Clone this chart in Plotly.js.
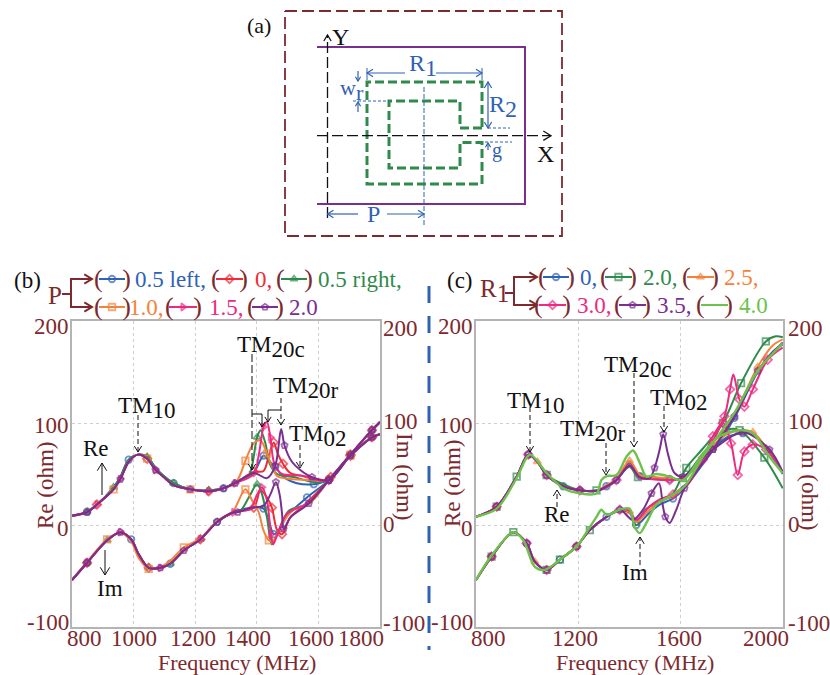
<!DOCTYPE html>
<html><head><meta charset="utf-8">
<script src="https://cdn.plot.ly/plotly-3.0.0.min.js"></script>
<style>html,body{margin:0;padding:0;background:#fff}#c{width:830px;height:675px}</style></head>
<body><div id="c"></div>
<script>
// ---------- palette ----------
const MAROON='#7c2a2e', BLUE='#2f62b4', RED='#ef2b36', GREEN='#2f8a4c', ORANGE='#f5823a', PINK='#ec2a80', PURPLE='#7a2e8f', LIME='#6cc24a', BLACK='#111';
const FONT='"Liberation Serif","Times New Roman",serif';

// ---------- panel (b): P sweep. [MHz, ohm] ----------
const bReLow=[[800,9],[849,12.5],[881,20],[935,35],[957,45],[984,62],[1014,69],[1044,65],[1071,54],[1098,47],[1130,39],[1184,35],[1244,33],[1292,36],[1330,41]];
const bReLowAlt=[[800,9],[849,13],[881,20],[935,37],[957,47],[984,64],[1014,69],[1044,67],[1071,56],[1098,48],[1130,41],[1184,35],[1244,34],[1292,36],[1330,42]];
const bImLow=[[800,-54],[849,-37],[914,-15],[957,-7],[992,-14],[1016,-28.5],[1049,-42],[1087,-42],[1119,-38],[1163,-25],[1217,-14],[1271,3],[1325,12.5]];
const bImLowAlt=[[800,-54],[849,-36],[914,-14],[957,-7.5],[992,-16],[1016,-32],[1049,-43],[1087,-41],[1119,-35],[1163,-22],[1217,-13],[1271,4],[1325,14]];
const bReTail=[[1704,68],[1774,86],[1800,89]];
const bImTail=[[1704,69],[1774,93],[1800,101]];

const bBlueRe=[[1390,52],[1422,68],[1439,63],[1460,57],[1487,47],[1530,41],[1585,40],[1634,45]];
const bBlueIm=[[1379,17],[1422,16],[1439,4],[1455,-9],[1471,-5.5],[1498,9],[1563,27],[1634,44]];
const bRedRe=[[1390,52],[1422,53],[1439,68],[1455,81],[1468,70],[1485,60],[1509,51],[1574,47],[1622,44],[1640,47]];
const bRedIm=[[1390,17],[1412,34],[1433,27],[1449,17],[1466,-5],[1482,-9],[1509,7.5],[1552,19],[1634,44]];
const bGreenRe=[[1347,44],[1374,48],[1401,86],[1412,93],[1428,80],[1442,60],[1466,50],[1520,47],[1585,42],[1634,44]];
const bGreenIm=[[1347,14],[1374,27],[1401,40],[1417,30],[1433,7.5],[1449,-19],[1466,-9],[1504,14],[1569,21],[1634,44]];
const bOrangeRe=[[1347,50],[1363,63],[1390,80],[1412,83],[1433,70],[1450,57],[1466,48],[1509,45],[1574,44],[1634,44]];
const bOrangeIm=[[1336,20.6],[1363,35],[1385,24],[1406,12.5],[1422,-5.5],[1439,-15],[1455,-15],[1477,-2],[1514,14],[1574,22],[1634,44]];
const bPinkRe=[[1390,50],[1406,68],[1422,96],[1433,101],[1444,86],[1457,60],[1482,50],[1541,48.5],[1596,44],[1634,44]];
const bPinkIm=[[1379,16],[1401,30],[1417,37],[1433,24],[1446,-9],[1453,-19],[1466,-10],[1498,11],[1569,22],[1634,44]];
const bPurpleRe=[[1390,51],[1433,46],[1460,58],[1479,94],[1490,78],[1514,62],[1541,54],[1579,47],[1634,44]];
const bPurpleIm=[[1338,12.5],[1379,16.7],[1422,19],[1444,30],[1462,42],[1474,30],[1482,11],[1487,-4],[1509,7.5],[1569,21],[1634,44]];

const bBlueMarks=[849,989,1130,1292,1422,1460,1585,1634,1704];
const bRedMarks=[881,1044,1244,1390,1455,1485,1640,1704,1774];
const bGreenMarks=[849,935,1044,1130,1244,1406,1774];
const bOrangeMarks=[935,1044,1163,1363,1439,1704];
const bPinkMarks=[881,957,1071,1217,1330,1417,1444,1774];
const bPurpleMarks=[849,957,1071,1184,1292,1338,1460,1490,1579,1634,1704,1774];

// ---------- panel (c): R1 sweep. [MHz, ohm] ----------
const cReLow=[[800,8],[881,18],[959,47.5],[1004,69],[1040,62],[1076,49],[1141,38],[1206,34],[1271,33.5]];
const cImLow=[[800,-54],[861,-31],[946,-7],[998,-18],[1030,-36],[1076,-44],[1128,-34],[1193,-21],[1245,-5],[1310,8]];
const cReMid=[[1310,38],[1349,44],[1400,61],[1440,48],[1479,47],[1557,45],[1609,46]];
const cReMidOrange=[[1310,39],[1349,45],[1400,63],[1440,49],[1479,47],[1557,46],[1609,45]];
const cReMidPink=[[1310,37],[1349,44],[1400,59],[1440,46],[1479,45],[1557,44],[1609,46]];
const cImMid=[[1362,15],[1400,13],[1426,3],[1478,15],[1518,23],[1570,28],[1615,38]];
const cImMidBlue=[[1362,14],[1400,12],[1426,0],[1478,12],[1518,20],[1570,26],[1615,36]];
const cImMidPink=[[1362,15],[1400,14],[1426,5],[1478,18],[1518,25],[1570,30],[1615,38]];

const cBlueRe=[[1687,69],[1726,76],[1790,87],[1843,90],[1882,89],[1947,71],[1999,50]];
const cBlueIm=[[1687,60],[1726,73],[1810,105],[1901,150],[1960,170],[1999,177]];
const cOrangeRe=[[1687,67],[1726,78],[1790,90],[1843,93],[1882,91],[1947,72],[1999,52]];
const cOrangeIm=[[1687,63],[1726,75],[1810,108],[1901,155],[1960,176],[1999,182]];
const cGreenRe=[[1206,34],[1271,34],[1310,37],[1349,44],[1400,57],[1433,47],[1479,47],[1557,45],[1609,46],[1687,70],[1778,93],[1830,93],[1927,66],[1999,36]];
const cGreenIm=[[1466,16],[1531,25],[1570,31],[1622,56],[1687,75],[1765,100],[1836,139],[1933,180],[1972,185],[1999,184]];
const cPinkRe=[[1687,66],[1726,87],[1765,100],[1797,80],[1823,49],[1849,72],[1882,79],[1934,74],[1999,51]];
const cPinkIm=[[1622,38],[1687,64],[1771,106.5],[1793,133],[1806,147.5],[1830,123],[1849,116],[1882,133],[1940,162],[1999,174]];
const cPurpleRe=[[1310,38],[1349,44],[1400,58],[1440,47],[1479,46],[1498,56],[1518,74],[1532,89],[1550,70],[1576,51],[1609,47.5],[1687,66],[1726,74],[1843,91],[1947,74],[1999,52]];
const cPurpleIm=[[1362,15],[1413,5],[1453,15],[1486,31],[1515,41],[1531,18],[1540,8],[1557,2],[1583,15],[1615,36],[1726,74],[1810,106.5],[1901,151],[1999,179]];
const cLimeRe=[[800,8],[881,16],[959,46],[1011,69],[1076,51],[1141,36],[1206,31],[1271,31],[1290,44],[1310,48],[1349,49],[1388,67],[1414,73],[1440,61],[1466,47.5],[1505,50],[1557,47.5],[1609,44],[1687,70],[1752,87],[1830,93],[1882,90],[1947,67],[1999,51]];
const cLimeIm=[[800,-54],[861,-30],[946,-7],[985,-15],[1030,-41],[1069,-44],[1128,-34],[1193,-21],[1245,-2],[1271,8],[1290,15],[1310,10],[1362,15],[1400,16],[1420,-2],[1440,-8],[1466,2],[1505,20],[1557,28],[1615,38],[1687,67],[1810,110],[1901,151],[1999,178]];

const cBlueMarks=[861,1004,1141,1206,1310,1440,1570,1843];
const cGreenMarks=[861,959,1076,1128,1245,1433,1622,1778,1836,1933];
const cOrangeMarks=[881,1040,1206,1400,1726,1882];
const cPinkMarks=[881,998,1082,1199,1349,1557,1687,1726,1771,1797,1823,1849,1882,1940];
const cPurpleMarks=[881,998,1082,1193,1349,1498,1540,1615,1726,1810,1901,1947];

// ---------- axis ticks and labels ----------
const bTicks=[800,1000,1200,1400,1600,1800];
const bTickShift=[12,0,-2,-9,-7,-19];
const cTicks=[800,1200,1600,2000];
const cTickShift=[12,-3,-2,-17];
const yTicks=[200,100,0,-100];
const yTickShiftLeft=[-6,-3,-3,5];
const yTickShiftRight=[-8,1,1,4];

// ---------- page geometry in px ----------
const W=830,H=675;
const pb={l:72,r:380,t:321,b:627}, pc={l:476,r:783,t:321,b:627};

const traces=[];
function curve(xa,ya,pairs,color,symbol,marks,width){
  const x=pairs.map(p=>p[0]), y=pairs.map(p=>p[1]);
  const t={type:'scatter',mode:marks?'lines+markers':'lines',xaxis:xa,yaxis:ya,x,y,cliponaxis:true,hoverinfo:'skip',
    line:{color,width:width||2,shape:'spline',smoothing:0.9}};
  if(marks){
    const size=x.map(()=>0);
    marks.forEach(m=>{let k=0;x.forEach((v,i)=>{if(Math.abs(v-m)<Math.abs(x[k]-m))k=i;});size[k]=6.5;});
    t.marker={symbol,size,color,line:{color,width:1.8}};
  }
  traces.push(t);
}
// panel b
const bSeries=[[bReLowAlt,bImLow,bBlueRe,bBlueIm,BLUE,'circle-open',bBlueMarks],[bReLow,bImLow,bRedRe,bRedIm,RED,'diamond-open',bRedMarks],[bReLowAlt,bImLow,bGreenRe,bGreenIm,GREEN,'triangle-up-open',bGreenMarks],[bReLow,bImLowAlt,bOrangeRe,bOrangeIm,ORANGE,'square-open',bOrangeMarks],[bReLow,bImLow,bPinkRe,bPinkIm,PINK,'triangle-right-open',bPinkMarks],[bReLow,bImLow,bPurpleRe,bPurpleIm,PURPLE,'pentagon-open',bPurpleMarks]];
bSeries.forEach(s=>{
  curve('x','y',s[0].concat(s[2],bReTail),s[4],s[5],s[6]);
  curve('x','y',s[1].concat(s[3],bImTail),s[4],s[5],s[6]);
});
// panel c
curve('x2','y2',cReLow.concat(cReMid,cBlueRe),BLUE,'circle-open',cBlueMarks);
curve('x2','y2',cImLow.concat(cImMidBlue,cBlueIm),BLUE,'circle-open',cBlueMarks);
curve('x2','y2',cReLow.slice(0,6).concat(cGreenRe),GREEN,'square-open',cGreenMarks);
curve('x2','y2',cImLow.concat(cImMid.slice(0,3),cGreenIm),GREEN,'square-open',cGreenMarks);
curve('x2','y2',cReLow.concat(cReMidOrange,cOrangeRe),ORANGE,'triangle-up-open',cOrangeMarks);
curve('x2','y2',cImLow.concat(cImMid,cOrangeIm),ORANGE,'triangle-up-open',cOrangeMarks);
curve('x2','y2',cReLow.concat(cReMidPink,cPinkRe),PINK,'diamond-open',cPinkMarks);
curve('x2','y2',cImLow.concat(cImMidPink,cPinkIm),PINK,'diamond-open',cPinkMarks);
curve('x2','y2',cReLow.concat(cPurpleRe),PURPLE,'pentagon-open',cPurpleMarks);
curve('x2','y2',cImLow.concat(cPurpleIm),PURPLE,'pentagon-open',cPurpleMarks);
curve('x2','y2',cLimeRe,LIME,null,null,2.4);
curve('x2','y2',cLimeIm,LIME,null,null,2.4);

// ---------- overlay helpers (px on the page axes x3/y3) ----------
const shapes=[],ann=[];
function seg(x0,y0,x1,y1,color,w,dash){shapes.push({type:'line',xref:'x3',yref:'y3',x0,y0,x1,y1,line:{color,width:w||1,dash:dash||'solid'}});}
function poly(pts,color,w,dash){shapes.push({type:'path',xref:'x3',yref:'y3',path:'M'+pts.map(p=>p.join(',')).join('L'),line:{color,width:w||1,dash:dash||'solid'}});}
function head(x0,y0,x1,y1,color,w,s){const a=Math.atan2(y1-y0,x1-x0),L=s||7,B=0.55;
  poly([[x1-L*Math.cos(a-B),y1-L*Math.sin(a-B)],[x1,y1],[x1-L*Math.cos(a+B),y1-L*Math.sin(a+B)]],color,w||1);}
function arrow(x0,y0,x1,y1,color,w,dash,s){seg(x0,y0,x1,y1,color,w,dash);head(x0,y0,x1,y1,color,w,s);}
function txt(text,x,y,color,size,o){ann.push(Object.assign({text,xref:'x3',yref:'y3',x,y,showarrow:false,xanchor:'center',yanchor:'middle',font:{family:FONT,size:size||23,color:color||BLACK}},o||{}));}
const SUB=(a,b,s)=>a+'<sub><span style="font-size:'+(s||23)+'px">'+b+'</span></sub>';

// ---------- (a) schematic ----------
poly([[285,11],[562,11],[562,236],[285,236],[285,11]],MAROON,1.8,'12px,5px');
poly([[317,47],[525,47],[525,204],[317,204]],PURPLE,2);
const spiral=[[482,128],[460,128],[460,101],[389,101],[389,168],[460,168],[460,142.5],[482,142.5],[482,184],[367,184],[367,82],[482,82],[482,128]];
poly(spiral,GREEN,3,'9px,4px');
arrow(327.5,218,327.5,35,BLACK,1.3,'11px,4px');
arrow(317,135.7,551,135.7,BLACK,1.3,'11px,4px',9);
txt('Y',340,37,BLACK,24); txt('X',545,154,BLACK,24); txt('(a)',259,25,BLACK,22);
// dimensions
seg(424,87,424,225,BLUE,1,'5px,2px');
arrow(405,73,367,73,BLUE,1.2); arrow(436,73,482,73,BLUE,1.2);
seg(367,68,367,80,BLUE,1); seg(482,68,482,80,BLUE,1);
txt(SUB('R','1',24),423,65,BLUE,24);
arrow(488,104,488,82,BLUE,1.2); arrow(488,104,488,128,BLUE,1.2);
seg(488,128,510,128,BLUE,1,'3px,2px');
txt(SUB('R','2',24),503,106,BLUE,24);
seg(485,142,512,142,BLUE,1,'3px,2px'); arrow(488,150,488,143,BLUE,1.2,null,5);
txt('g',497,150,BLUE,20);
arrow(358,71,358,81,BLUE,1.2,null,5); arrow(358,112,358,102,BLUE,1.2,null,5);
seg(353,101,389,101,BLUE,1,'3px,2px');
txt(SUB('w','r',22),352,90,BLUE,22);
arrow(358,214,327.5,214,BLUE,1.2); arrow(387,214,424,214,BLUE,1.2);
txt('P',373,214,BLUE,24);

// ---------- divider ----------
seg(429,286,429,650,BLUE,3,'17px,13px');

// ---------- (b) legend block ----------
txt('(b)',27,280,BLACK,23);
txt('P',55,295,MAROON,25);
poly([[62,294],[71,294]],MAROON,2); poly([[92,279],[71,279],[71,307],[92,307]],MAROON,2);
head(71,279,92,279,MAROON,2,9); head(71,307,92,307,MAROON,2,9);
// ---------- (c) legend block ----------
txt('(c)',460,280,BLACK,23);
txt(SUB('R','1',25),494,291,MAROON,25);
poly([[505,293],[514,293]],MAROON,2); poly([[537,277],[514,277],[514,305],[537,305]],MAROON,2);
head(514,277,537,277,MAROON,2,9); head(514,305,537,305,MAROON,2,9);

function key(x0,x1,y,color,symbol){
  const t={type:'scatter',mode:symbol?'lines+markers':'lines',xaxis:'x3',yaxis:'y3',x:[x0,(x0+x1)/2,x1],y:[y,y,y],hoverinfo:'skip',line:{color,width:2}};
  if(symbol) t.marker={symbol,size:[0,6.5,0],color,line:{color,width:1.8}};
  traces.push(t);
  txt('(\u00A0\u00A0\u00A0)',(x0+x1)/2,y-1,MAROON,26);
}
function ltxt(t,x,y,color){txt(t,x,y,color,23,{xanchor:'left'});}
key(99,125,279,BLUE,'circle-open'); ltxt('0.5 left,',133,279,BLUE);
key(216,243,279,RED,'diamond-open'); ltxt('0,',253,279,RED);
key(281,307,279,GREEN,'triangle-up-open'); ltxt('0.5 right,',316,279,GREEN);
key(99,125,307,ORANGE,'square-open'); ltxt('1.0,',127,307,ORANGE);
key(169,197,307,PINK,'triangle-right-open'); ltxt('1.5,',207,307,PINK);
key(252,278,307,PURPLE,'pentagon-open'); ltxt('2.0',287,307,PURPLE);

key(543,569,277,BLUE,'circle-open'); ltxt('0,',578,277,BLUE);
key(605,632,277,GREEN,'square-open'); ltxt('2.0,',641,277,GREEN);
key(687,714,277,ORANGE,'triangle-up-open'); ltxt('2.5,',722,277,ORANGE);
key(539,566,305,PINK,'diamond-open'); ltxt('3.0,',575,305,PINK);
key(619,646,305,PURPLE,'pentagon-open'); ltxt('3.5,',655,305,PURPLE);
key(701,728,305,LIME,null); ltxt('4.0',737,305,LIME);

// ---------- callouts in the plots ----------
const DA='5px,3px';
const tm=(b)=>SUB('TM',b,23);
txt(tm('10'),147,408); arrow(138,415,138,452,BLACK,1,DA,7);
txt(tm('20c'),271,347); arrow(252,354,252,470,BLACK,1,'8px,3px',7);
txt(tm('20r'),306,388); arrow(281,398,281,425,BLACK,1,DA,7);
txt(tm('02'),318,436); arrow(300,445,300,468,BLACK,1,DA,7);
poly([[252,414],[262,414],[262,427]],BLACK,1); head(262,414,262,427,BLACK,1,6);
poly([[281,410],[268,410],[268,422]],BLACK,1); head(268,410,268,422,BLACK,1,6);
txt('Re',96,448,BLACK,23); arrow(102,495,102,463,BLACK,1,null,9);
txt('Im',110,588,BLACK,23); arrow(105,550,105,575,BLACK,1,null,9);

txt(tm('10'),536,403); arrow(530,407,530,452,BLACK,1,DA,7);
txt(tm('20r'),593,431); arrow(606,443,606,475,BLACK,1,DA,7);
txt(tm('20c'),638,367); arrow(634,373,634,447,BLACK,1,DA,7);
txt(tm('02'),679,400); arrow(664,406,664,432,BLACK,1,DA,7);
txt('Re',557,514,BLACK,23); arrow(557,507,557,490,BLACK,1,DA,7);
txt('Im',635,572,BLACK,23); arrow(640,565,640,537,BLACK,1,DA,8);

// ---------- tick labels and axis titles ----------
function xLabels(xref,ticks,shift){ticks.forEach((t,i)=>ann.push({text:String(t),xref,x:t,xshift:shift[i],yref:'y3',y:638,showarrow:false,xanchor:'center',yanchor:'middle',font:{family:FONT,size:23,color:MAROON}}));}
function yLabels(yref,xpx,anchor,shift){yTicks.forEach((t,i)=>ann.push({text:String(t),yref,y:t,yshift:shift[i],xref:'x3',x:xpx,showarrow:false,xanchor:anchor,yanchor:'middle',font:{family:FONT,size:23,color:MAROON}}));}
xLabels('x',bTicks,bTickShift); xLabels('x2',cTicks,cTickShift);
yLabels('y',71,'right',yTickShiftLeft); yLabels('y',381,'left',yTickShiftRight);
yLabels('y2',475,'right',yTickShiftLeft); yLabels('y2',786,'left',yTickShiftRight);
txt('Frequency (MHz)',237,662,MAROON,22); txt('Frequency (MHz)',635,662,MAROON,22);
txt('Re (ohm)',45,485,MAROON,23,{textangle:-90}); txt('Im (ohm)',405,477,MAROON,23,{textangle:90});
txt('Re (ohm)',452,483,MAROON,23,{textangle:-90}); txt('Im (ohm)',810,487,MAROON,23,{textangle:90});

// ---------- axes ----------
const FR='#b4b4b4', GR='#cfcfcf';
const xCommon={showline:true,linecolor:FR,linewidth:2,mirror:true,ticks:'',showticklabels:false,showgrid:true,gridcolor:GR,griddash:'dot',gridwidth:1,zeroline:false,fixedrange:true,tickmode:'array'};
const yCommon=Object.assign({},xCommon,{range:[-100,200],tickvals:yTicks});
const layout={width:W,height:H,margin:{l:0,r:0,t:0,b:0},paper_bgcolor:'#fff',plot_bgcolor:'rgba(0,0,0,0)',showlegend:false,hovermode:false,
  xaxis:Object.assign({},xCommon,{domain:[pb.l/W,pb.r/W],anchor:'y',range:[800,1800],tickvals:bTicks}),
  yaxis:Object.assign({},yCommon,{domain:[1-pb.b/H,1-pb.t/H],anchor:'x'}),
  xaxis2:Object.assign({},xCommon,{domain:[pc.l/W,pc.r/W],anchor:'y2',range:[800,2000],tickvals:cTicks}),
  yaxis2:Object.assign({},yCommon,{domain:[1-pc.b/H,1-pc.t/H],anchor:'x2'}),
  xaxis3:{domain:[0,1],anchor:'y3',range:[0,W],visible:false,fixedrange:true},
  yaxis3:{domain:[0,1],anchor:'x3',range:[H,0],visible:false,fixedrange:true},
  shapes,annotations:ann};
Plotly.newPlot('c',traces,layout,{displayModeBar:false,staticPlot:true});
</script></body></html>
